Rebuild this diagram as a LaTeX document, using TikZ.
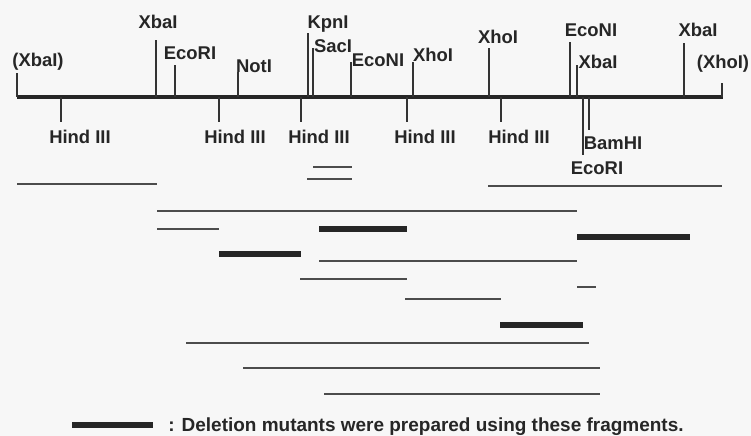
\documentclass[tikz,border=0pt]{standalone}
\usepackage{fontspec}
\setmainfont{Liberation Sans}
\begin{document}
\begin{tikzpicture}[x=0.02cm,y=-0.02cm,
    site/.style={font=\fontsize{10.5}{12}\selectfont\bfseries,text=black!85,
      inner sep=0pt,text height=7.5pt,text depth=0pt},
    cut/.style={line width=0.7pt,black!80},
    frag/.style={line width=0.8pt,black!70},
    delfrag/.style={line width=3.5pt,black!85}]
  \useasboundingbox[fill=black!3] (0,0) rectangle (751,436);
  \def\mapy{97}
  \def\mapleft{17}
  \def\mapright{723}

  \coordinate (map-l) at (\mapleft,\mapy);
  \coordinate (map-r) at (\mapright,\mapy);
  \draw[line width=2pt,black!85] (map-l) -- (map-r);

  % sites above the map
  \foreach \n/\x/\t/\lx/\ly/\lab in {xa/17/73/38/60/{(XbaI)},
      xb/156/40/158/22/XbaI, ea/175/65/190/53/EcoRI, nt/238/72/254/66/NotI,
      kp/308/33/328/22/KpnI, sc/313/48/333/46/SacI, na/351/62/378/60/EcoNI,
      ha/413/62/433/55/XhoI, hb/489/48/498/37/XhoI, nb/570/42/591/30/EcoNI,
      xc/577/65/598/62/XbaI, xd/684/43/698/30/XbaI, hx/722/83/723/62/{(XhoI)}} {
    \coordinate (\n-t) at (\x,\t);
    \coordinate (\n-b) at (\x,\mapy);
    \draw[cut] (\n-t) -- (\n-b);
    \node[site] (\n-lab) at (\lx,\ly) {\lab};
  }

  % sites below the map
  \foreach \n/\x/\t/\lx/\ly/\lab in {h1/61/122/80/137/Hind III,
      h2/219/122/235/137/Hind III, h3/301/122/319/137/Hind III,
      h4/407/122/425/137/Hind III, h5/501/122/519/137/Hind III,
      eb/583/155/597/168/EcoRI, bm/589/130/613/143/BamHI} {
    \coordinate (\n-t) at (\x,\mapy);
    \coordinate (\n-b) at (\x,\t);
    \draw[cut] (\n-t) -- (\n-b);
    \node[site] (\n-lab) at (\lx,\ly) {\lab};
  }

  % fragments
  \foreach \a/\b/\y in {313/352/167, 307/352/179, 17/157/184, 488/722/186,
      157/577/211, 157/219/229, 319/577/261, 300/407/279, 577/596/287,
      405/501/299, 186/589/343, 243/600/368, 324/600/394} {
    \draw[frag] (\a,\y) -- (\b,\y);
  }
  \foreach \a/\b/\y in {319/407/229, 577/690/237, 219/301/254, 500/583/325} {
    \draw[delfrag] (\a,\y) -- (\b,\y);
  }

  % legend
  \coordinate (key-l) at (72,425);
  \coordinate (key-r) at (153,425);
  \draw[delfrag] (key-l) -- (key-r);
  \node[site,font=\fontsize{10.8}{12}\selectfont\bfseries,anchor=west] (key)
    at (168,425) {: Deletion mutants were prepared using these fragments.};
\end{tikzpicture}
\end{document}
